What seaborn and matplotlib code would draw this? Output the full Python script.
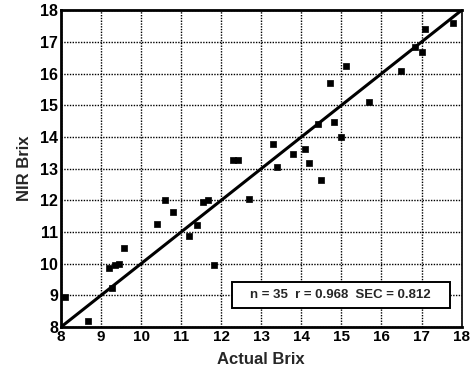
import matplotlib
matplotlib.use("Agg")
import matplotlib.pyplot as plt
from matplotlib.patches import Rectangle
import seaborn as sns
import pandas as pd

actual_brix = [8.1, 8.68, 9.27, 9.19, 9.35, 9.45, 9.58, 10.39, 10.6, 10.8,
               11.19, 11.4, 11.55, 11.68, 11.81, 12.3, 12.42, 12.7, 13.3, 13.4,
               13.79, 14.08, 14.2, 14.41, 14.49, 14.72, 14.81, 14.99, 15.11, 15.69,
               16.49, 16.84, 17.0, 17.08, 17.78]
nir_brix = [8.95, 8.19, 9.23, 9.88, 9.95, 9.98, 10.48, 11.26, 12.0, 11.63,
            10.86, 11.21, 11.95, 12.0, 9.97, 13.28, 13.28, 12.05, 13.77, 13.05,
            13.45, 13.63, 13.19, 14.42, 12.65, 15.7, 14.47, 14.0, 16.23, 15.1,
            16.07, 16.84, 16.68, 17.42, 17.61]
ticks = [8, 9, 10, 11, 12, 13, 14, 15, 16, 17, 18]
identity = [8, 18]
stats_text = "n = 35  r = 0.968  SEC = 0.812"

sns.set_style("white")
plt.rcParams['font.family'] = ['Liberation Sans', 'DejaVu Sans']

df = pd.DataFrame({"Actual Brix": actual_brix, "NIR Brix": nir_brix})
line_df = pd.DataFrame({"x": identity, "y": identity})

fig = plt.figure(figsize=(4.72, 3.79), dpi=100)
ax = fig.add_axes([0.129, 0.137, 0.849, 0.836])

sns.lineplot(data=line_df, x="x", y="y", ax=ax, color="black", linewidth=2.2, zorder=3)
sns.scatterplot(data=df, x="Actual Brix", y="NIR Brix", ax=ax, marker="s", s=24,
                color="black", edgecolor="black", linewidth=0.5, zorder=4)

ax.set_xlim(8, 18)
ax.set_ylim(8, 18)
ax.set_xticks(ticks)
ax.set_yticks(ticks)
ax.set_xticklabels([str(t) for t in ticks], fontsize=11, fontweight="bold")
ax.set_yticklabels([str(t) for t in ticks], fontsize=11.5, fontweight="bold")
ax.grid(True, color="black", linestyle=(0, (1, 1)), linewidth=1.0)
ax.set_axisbelow(True)
ax.tick_params(direction="in", length=3, width=1.2, pad=2, colors="black")
for s in ax.spines.values():
    s.set_color("black")
    s.set_linewidth(2)
ax.spines["right"].set_linewidth(1.2)

ax.set_xlabel("Actual Brix", fontsize=12, fontweight="bold", labelpad=6)
ax.set_ylabel("NIR Brix", fontsize=12, fontweight="bold", labelpad=6)

ax.add_patch(Rectangle((12.26, 8.59), 5.44, 0.82, facecolor="white", edgecolor="black",
                       linewidth=1.4, zorder=5))
ax.text(14.98, 9.0, stats_text, ha="center", va="center", fontsize=9.5, fontweight="bold",
        zorder=6)

fig.savefig("out.png", dpi=100)
